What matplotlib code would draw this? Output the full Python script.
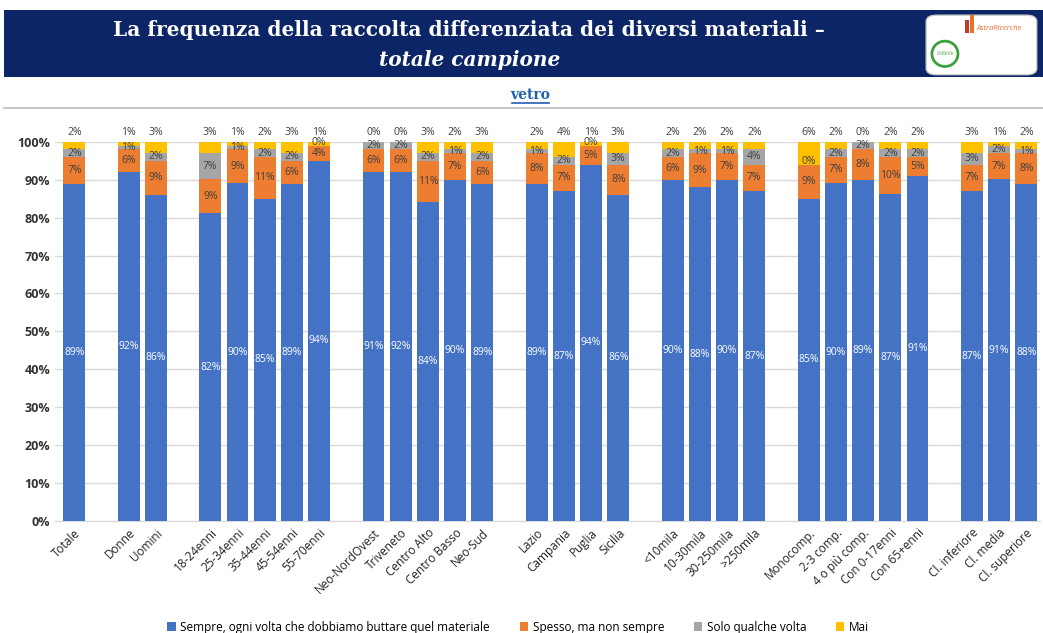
import matplotlib.pyplot as plt
from matplotlib.patches import Rectangle, FancyBboxPatch, Ellipse

# ---- data (percentages) ----
categories = ["Totale", "", "Donne", "Uomini", "",
              "18-24enni", "25-34enni", "35-44enni", "45-54enni", "55-70enni", "",
              "Neo-NordOvest", "Triveneto", "Centro Alto", "Centro Basso", "Neo-Sud", "",
              "Lazio", "Campania", "Puglia", "Sicilia", "",
              "<10mila", "10-30mila", "30-250mila", ">250mila", "",
              "Monocomp.", "2-3 comp.", "4 o più comp.", "Con 0-17enni", "Con 65+enni", "",
              "Cl. inferiore", "Cl. media", "Cl. superiore"]

sempre = [89, None, 92, 86, None,
          82, 90, 85, 89, 94, None,
          91, 92, 84, 90, 89, None,
          89, 87, 94, 86, None,
          90, 88, 90, 87, None,
          85, 90, 89, 87, 91, None,
          87, 91, 88]
spesso = [7, None, 6, 9, None,
          9, 9, 11, 6, 4, None,
          6, 6, 11, 7, 6, None,
          8, 7, 5, 8, None,
          6, 9, 7, 7, None,
          9, 7, 8, 10, 5, None,
          7, 7, 8]
qualche = [2, None, 1, 2, None,
           7, 1, 2, 2, 0, None,
           2, 2, 2, 1, 2, None,
           1, 2, 0, 3, None,
           2, 1, 1, 4, None,
           0, 2, 2, 2, 2, None,
           3, 2, 1]
mai = [2, None, 1, 3, None,
       3, 1, 2, 3, 1, None,
       0, 0, 3, 2, 3, None,
       2, 4, 1, 3, None,
       2, 2, 2, 2, None,
       6, 2, 0, 2, 2, None,
       3, 1, 2]

series_names = ["Sempre, ogni volta che dobbiamo buttare quel materiale",
                "Spesso, ma non sempre", "Solo qualche volta", "Mai"]
colors = ["#4472C4", "#ED7D31", "#A5A5A5", "#FFC000"]

plt.rcParams['font.family'] = ['Open Sans', 'DejaVu Sans']

fig = plt.figure(figsize=(10.43, 6.33), dpi=100)

# ---- header band ----
fig.patches.append(Rectangle((0.004, 0.878), 0.996, 0.106, transform=fig.transFigure,
                             facecolor="#0B2566", edgecolor="none", zorder=0))
fig.text(0.45, 0.952, "La frequenza della raccolta differenziata dei diversi materiali \u2013",
         color="white", fontsize=14.5, fontweight="bold", family="DejaVu Serif",
         ha="center", va="center")
fig.text(0.45, 0.905, "totale campione", color="white", fontsize=14.5, fontweight="bold",
         style="italic", family="DejaVu Serif", ha="center", va="center")

# logo box
fig.patches.append(FancyBboxPatch((0.888, 0.882), 0.106, 0.094, transform=fig.transFigure,
                                  boxstyle="round,pad=0.0,rounding_size=0.01",
                                  facecolor="white", edgecolor="#cccccc", zorder=1))
fig.text(0.958, 0.955, "AstraRicerche", color="#E8702A", fontsize=5.5, style="italic",
         ha="center", va="center", zorder=2)
fig.patches.append(Rectangle((0.925, 0.948), 0.004, 0.02, transform=fig.transFigure,
                             facecolor="#C0392B", edgecolor="none", zorder=2))
fig.patches.append(Rectangle((0.930, 0.948), 0.004, 0.028, transform=fig.transFigure,
                             facecolor="#E8702A", edgecolor="none", zorder=2))
fig.patches.append(Ellipse((0.906, 0.915), 0.025, 0.04, transform=fig.transFigure,
                           facecolor="white", edgecolor="#3DA03D", lw=2, zorder=2))
fig.text(0.906, 0.915, "CoReVe", color="#3DA03D", fontsize=3.5, ha="center", va="center", zorder=3)

# sub title
fig.text(0.508, 0.85, "vetro", color="#1F5FAF", fontsize=10, fontweight="bold",
         family="DejaVu Serif", ha="center", va="center")
fig.add_artist(plt.Line2D([0.491, 0.526], [0.838, 0.838], color="#1F5FAF", lw=1.2,
                          transform=fig.transFigure))
fig.add_artist(plt.Line2D([0.004, 1.0], [0.83, 0.83], color="#C8C8C8", lw=1.5,
                          transform=fig.transFigure))

# ---- chart ----
ax = fig.add_axes([0.053, 0.177, 0.944, 0.599])
x = list(range(len(categories)))
series = [sempre, spesso, qualche, mai]

# totals per bar (rounded values don't always sum to 100, bars are drawn to 100%)
totals = [None if sempre[i] is None else sempre[i] + spesso[i] + qualche[i] + mai[i]
          for i in x]

bottom = [0] * len(categories)
for s, (vals, col, name) in enumerate(zip(series, colors, series_names)):
    xs = [i for i in x if vals[i] is not None]
    hs = [vals[i] * 100.0 / totals[i] for i in xs]
    bs = [bottom[i] for i in xs]
    ax.bar(xs, hs, bottom=bs, width=0.8, color=col, label=name, zorder=3)
    for i, h, b in zip(xs, hs, bs):
        if s == 3:
            ypos = 102.5
        else:
            ypos = b + h / 2
            if s == 2 and vals[i] == 0:
                ypos = b + 0.8
        tc = "white" if s == 0 else "#404040"
        ax.text(i, ypos, f"{vals[i]}%", ha="center", va="center", fontsize=7.5,
                color=tc, zorder=4)
        bottom[i] = b + h

ax.set_xlim(-0.7, len(categories) - 0.5)
ax.set_ylim(0, 100)
ax.set_yticks(range(0, 101, 10))
ax.set_yticklabels([f"{v}%" for v in range(0, 101, 10)], fontsize=9,
                   fontweight="bold", color="#333333")
ax.set_xticks(x)
ax.set_xticklabels(categories, rotation=45, ha="right", rotation_mode="anchor",
                   fontsize=8.5, color="#222222")
ax.tick_params(axis="both", length=0)
ax.tick_params(axis="x", pad=4)
ax.yaxis.grid(True, color="#D9D9D9", lw=1, zorder=0)
for sp in ["top", "right", "left"]:
    ax.spines[sp].set_visible(False)
ax.spines["bottom"].set_color("#D9D9D9")

ax.legend(loc="lower center", bbox_to_anchor=(0.47, -0.325), ncol=4, frameon=False,
          fontsize=8.5, handlelength=0.7, handleheight=0.7, columnspacing=2.5,
          handletextpad=0.4)

fig.savefig("out.png", dpi=100)
